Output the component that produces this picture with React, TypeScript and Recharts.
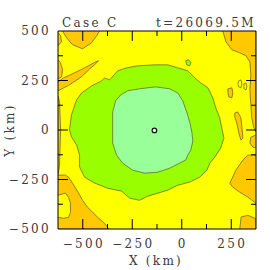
import React from 'react';
import { ScatterChart, Scatter, XAxis, YAxis, CartesianGrid, ReferenceLine, ReferenceArea } from 'recharts';

// contour regions, vertices in km (x, y)
const innerRegion = [
  [-349, 10], [-349, 91], [-334, 147], [-309, 177], [-273, 198], [-213, 208], [-132, 218],
  [-61, 208], [-20, 187], [5, 147], [25, 91], [40, 41], [51, -10], [56, -56], [46, -101],
  [30, -127], [20, -152], [-10, -167], [-61, -193], [-121, -213], [-187, -218], [-248, -203],
  [-299, -167], [-329, -127], [-349, -66], [-349, 10],
];

const greenRegion = [
  [-567, 0], [-557, 76], [-531, 152], [-506, 187], [-455, 223], [-405, 248], [-390, 263],
  [-364, 253], [-324, 299], [-278, 314], [-223, 324], [-137, 329], [-71, 329], [-20, 314],
  [30, 299], [66, 263], [96, 238], [132, 213], [157, 162], [172, 111], [192, 61], [202, 10],
  [213, -41], [197, -91], [167, -137], [142, -167], [127, -203], [91, -238], [40, -263],
  [-20, -279], [-71, -304], [-121, -319], [-172, -334], [-213, -355], [-263, -344],
  [-304, -309], [-374, -294], [-440, -268], [-491, -238], [-516, -187], [-516, -127],
  [-531, -76], [-557, -35], [-567, 0],
];

const greenSpeck = [[20, 350], [35, 355], [46, 340], [40, 324], [25, 329], [20, 350]];

const topLeftCap = [[-602, 500], [-582, 466], [-552, 431], [-501, 410], [-455, 441], [-430, 476], [-415, 500]];
const leftCornerBit = [[-625, 491], [-612, 476], [-607, 446], [-625, 425]];
const leftPatch = [[-625, 355], [-612, 339], [-602, 304], [-607, 268], [-625, 258]];
const leftStreak = [
  [-625, 243], [-597, 263], [-541, 289], [-481, 319], [-435, 344], [-420, 350],
  [-435, 334], [-465, 309], [-506, 269], [-567, 228], [-625, 198],
];
const leftEdgeStrip = [[-625, 172], [-617, 142], [-612, 0], [-617, -177], [-625, -228]];
const bottomLeft = [
  [-625, -228], [-587, -228], [-572, -238], [-552, -268], [-536, -294], [-521, -319],
  [-501, -355], [-476, -390], [-455, -410], [-425, -441], [-390, -471], [-369, -500], [-625, -500],
];
const bottomLeftIsland = [
  [-625, -329], [-587, -319], [-572, -340], [-562, -370], [-562, -415], [-572, -441],
  [-597, -446], [-625, -441],
];
const topRight = [
  [207, 500], [223, 446], [253, 405], [293, 390], [324, 375], [344, 344], [349, 279],
  [344, 203], [349, 127], [354, 61], [364, 10], [375, -10], [375, 500],
];
const rightEdgeBit = [[375, -25], [349, -36], [344, -66], [359, -86], [375, -91]];
const rightBig = [
  [375, -127], [334, -127], [309, -152], [273, -203], [243, -269], [258, -289],
  [293, -314], [334, -339], [375, -370],
];
const rightStreak = [
  [268, 86], [283, 91], [299, 61], [304, 10], [309, -41], [299, -51], [288, -15],
  [278, 35], [268, 66], [268, 86],
];
const rightBlob = [[233, 208], [253, 213], [258, 188], [253, 162], [238, 167], [233, 188], [233, 208]];
const bottomRight = [[293, -500], [300, -439], [334, -431], [373, -447], [375, -500]];
const ringA = [[288, 248], [299, 253], [304, 233], [299, 213], [288, 218], [283, 233], [288, 248]];
const ringB = [[314, 233], [324, 238], [329, 218], [324, 203], [314, 208], [314, 233]];

const centerDot = [{ x: -138, y: -2 }];

const xTicks = [-500, -250, 0, 250];
const yTicks = [-500, -250, 0, 250, 500];
const xMajor = [-500, -250, 0, 250];
const xMinor = [-375, -125, 125];
const yMajor = [-250, 0, 250];
const yMinor = [-375, -125, 125, 375];

const X0 = -625, X1 = 375, Y0 = -500, Y1 = 500;

const YELLOW = '#ffff00';
const ORANGE = '#ffc800';
const GREEN = '#99ff00';
const LIGHT = '#99ff99';
const EDGE = '#5c5a2c';
const FONT = { fontFamily: 'DejaVu Serif', fontSize: 12, letterSpacing: 2.3, fill: '#3a3a3a' };

const pts = (a: number[][]) => a.map(([x, y]) => ({ x, y }));
const fmt = (v: number) => (v < 0 ? '\u2212' + Math.abs(v) : String(v));

const XTick = ({ x, y, payload }: any) => (
  <text x={x + 1} y={y + 11} textAnchor="middle" {...FONT}>{fmt(payload.value)}</text>
);
const YTick = ({ x, y, payload }: any) => (
  <text x={x + 1} y={y + 4.3} textAnchor="end" {...FONT}>{fmt(payload.value)}</text>
);

const region = (data: number[][], fill: string, key: string) => (
  <Scatter
    key={key}
    data={pts(data)}
    line={{ fill, stroke: EDGE, strokeWidth: 0.7 }}
    shape={() => null}
    isAnimationActive={false}
  />
);

const segs: { x: number; y: number }[][] = [];
xMajor.forEach((v) => {
  segs.push([{ x: v, y: Y0 }, { x: v, y: Y0 + 50 }], [{ x: v, y: Y1 }, { x: v, y: Y1 - 50 }]);
});
xMinor.forEach((v) => {
  segs.push([{ x: v, y: Y0 }, { x: v, y: Y0 + 25 }], [{ x: v, y: Y1 }, { x: v, y: Y1 - 25 }]);
});
yMajor.forEach((v) => {
  segs.push([{ x: X0, y: v }, { x: X0 + 50, y: v }], [{ x: X1, y: v }, { x: X1 - 50, y: v }]);
});
yMinor.forEach((v) => {
  segs.push([{ x: X0, y: v }, { x: X0 + 25, y: v }], [{ x: X1, y: v }, { x: X1 - 25, y: v }]);
});

export default function App() {
  return (
    <div style={{ position: 'absolute', left: 0, top: 0, width: 270, height: 270, background: '#fff' }}>
      <ScatterChart width={270} height={270} margin={{ top: 31, right: 14, bottom: 0, left: 0 }}>
        <CartesianGrid horizontal={false} vertical={false} fill={YELLOW} />
        <XAxis
          type="number"
          dataKey="x"
          domain={[X0, X1]}
          ticks={xTicks}
          allowDataOverflow
          axisLine={false}
          tickLine={false}
          tick={<XTick />}
          height={41}
        />
        <YAxis
          type="number"
          dataKey="y"
          domain={[Y0, Y1]}
          ticks={yTicks}
          allowDataOverflow
          axisLine={false}
          tickLine={false}
          tick={<YTick />}
          width={58}
        />
        {region(topLeftCap, ORANGE, 'tlc')}
        {region(leftCornerBit, ORANGE, 'lcb')}
        {region(leftPatch, ORANGE, 'lp')}
        {region(leftStreak, ORANGE, 'ls')}
        {region(leftEdgeStrip, ORANGE, 'les')}
        {region(bottomLeft, ORANGE, 'bl')}
        {region(bottomLeftIsland, YELLOW, 'bli')}
        {region(topRight, ORANGE, 'tr')}
        {region(rightEdgeBit, ORANGE, 'reb')}
        {region(rightBig, ORANGE, 'rb')}
        {region(rightStreak, ORANGE, 'rs')}
        {region(rightBlob, ORANGE, 'rbl')}
        {region(bottomRight, ORANGE, 'br')}
        <Scatter data={pts(ringA)} line={{ stroke: EDGE, strokeWidth: 0.7 }} shape={() => null} isAnimationActive={false} />
        <Scatter data={pts(ringB)} line={{ stroke: EDGE, strokeWidth: 0.7 }} shape={() => null} isAnimationActive={false} />
        {region(greenRegion, GREEN, 'g')}
        {region(greenSpeck, GREEN, 'gs')}
        {region(innerRegion, LIGHT, 'in')}
        <Scatter
          data={centerDot}
          isAnimationActive={false}
          shape={(p: any) => <circle cx={p.cx} cy={p.cy} r={2.3} fill="#eef6ff" stroke="#111" strokeWidth={1.2} />}
        />
        {segs.map((s, i) => (
          <ReferenceLine key={i} segment={s} stroke="#000" strokeWidth={1} ifOverflow="visible" zIndex={2000} />
        ))}
        <ReferenceArea x1={X0} x2={X1} y1={Y0} y2={Y1} fill="none" fillOpacity={0} stroke="#000" strokeWidth={1} ifOverflow="visible" zIndex={2000} />
      </ScatterChart>
      <svg width={270} height={270} style={{ position: 'absolute', left: 0, top: 0, pointerEvents: 'none' }}>
        <text x={62} y={26.5} {...FONT}>Case C</text>
        <text x={156} y={26.5} {...FONT}>t=26069.5M</text>
        <text x={156} y={265} textAnchor="middle" {...FONT}>X (km)</text>
        <text x={14} y={130} textAnchor="middle" transform="rotate(-90, 14, 130)" {...FONT}>Y (km)</text>
      </svg>
    </div>
  );
}
